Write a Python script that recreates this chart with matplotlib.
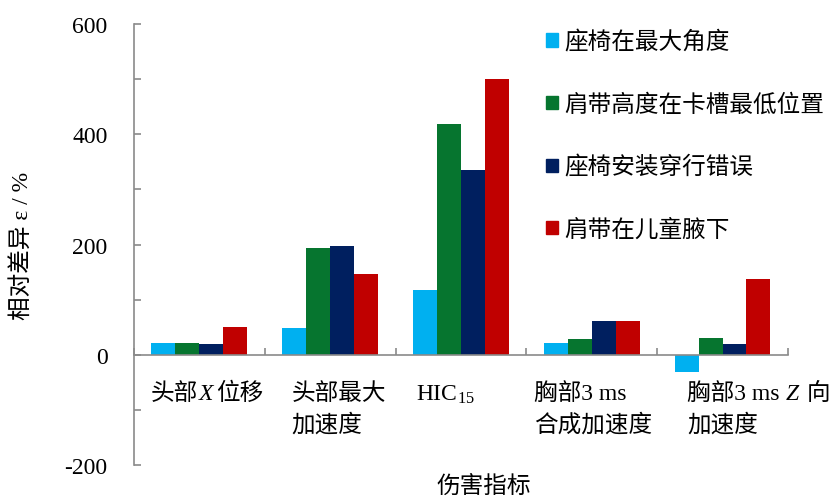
import numpy as np
import matplotlib.pyplot as plt
import matplotlib.transforms as mtransforms
from matplotlib.ticker import MultipleLocator
from matplotlib.patches import Patch

plt.rcParams['font.family'] = ['Liberation Serif', 'Noto Sans CJK SC']
plt.rcParams['mathtext.fontset'] = 'custom'
plt.rcParams['mathtext.rm'] = 'Liberation Serif'
plt.rcParams['mathtext.it'] = 'Liberation Serif:italic'
plt.rcParams['axes.unicode_minus'] = False

# data ($...$ parts are drawn as math: italic / subscript)
categories = [
    ["头部$X$位移"],
    ["头部最大", "加速度"],
    ["HIC$_{15}$"],
    ["胸部3 ms", "合成加速度"],
    ["胸部3 ms $Z$ 向", "加速度"],
]
series_names = ["座椅在最大角度", "肩带高度在卡槽最低位置", "座椅安装穿行错误", "肩带在儿童腋下"]
seat_max_angle = [22, 49, 118, 22, -31]
belt_lowest = [22, 193, 418, 28, 31]
seat_wrong_path = [19, 198, 336, 62, 20]
belt_under_arm = [51, 146, 501, 62, 138]
values = [seat_max_angle, belt_lowest, seat_wrong_path, belt_under_arm]
colors = ["#00B0F0", "#06752F", "#001F5F", "#C00000"]

# left edge of each category label (data units)
label_x = [-0.37, 0.706, 1.66, 2.561, 3.729]

fig = plt.figure(figsize=(8.32, 5.02), dpi=100)
ax = fig.add_axes([0.161, 0.0717, 0.786, 0.8785])

x = np.arange(len(categories))
w = 0.183
for k, vals in enumerate(values):
    ax.bar(x + (k - 1.5) * w, vals, width=w, color=colors[k], zorder=2)

ax.set_xlim(-0.5, 4.5)
ax.set_ylim(-200, 600)

axis_grey = "#8a8a8a"
for s in ["top", "right"]:
    ax.spines[s].set_visible(False)
ax.spines["bottom"].set_position(("data", 0))
ax.spines["bottom"].set_color(axis_grey)
ax.spines["left"].set_color(axis_grey)
ax.spines["bottom"].set_linewidth(1.2)
ax.spines["left"].set_linewidth(1.2)

ax.yaxis.set_major_locator(MultipleLocator(200))
ax.yaxis.set_minor_locator(MultipleLocator(100))
ax.set_xticks(np.arange(-0.5, 5, 1.0))
ax.set_xticklabels([])
ax.tick_params(axis="both", which="both", direction="in", length=5,
               width=1.2, color=axis_grey)
ax.tick_params(axis="y", which="major", labelsize=17, pad=19)

# category labels: mixed CJK / italic pieces laid out one after another
renderer = fig.canvas.get_renderer()
for i, lines in enumerate(categories):
    for j, line in enumerate(lines):
        shift = 0.0
        for n, part in enumerate(line.split("$")):
            if not part:
                continue
            s = "$" + part + "$" if n % 2 else part
            trans = mtransforms.offset_copy(ax.transData, fig=fig, x=shift,
                                            y=0, units="dots")
            t = ax.text(label_x[i], -80 - 58 * j, s, ha="left", va="baseline",
                        fontsize=17, transform=trans)
            shift += t.get_window_extent(renderer).width

fig.text(22 / 832, 0.511, "相对差异 ε / %", rotation=90, ha="center",
         va="center", fontsize=17)
fig.text(484 / 832, 1 - 488 / 502, "伤害指标", ha="center", va="center",
         fontsize=17)

handles = [Patch(color=c) for c in colors]
fig.legend(handles, series_names, loc="upper left",
           bbox_to_anchor=(537 / 832, 1 - 22 / 502), frameon=False,
           fontsize=17, handlelength=0.5, handleheight=0.5,
           handletextpad=0.25, labelspacing=1.69, borderaxespad=0)

fig.savefig("out.png", dpi=100)
